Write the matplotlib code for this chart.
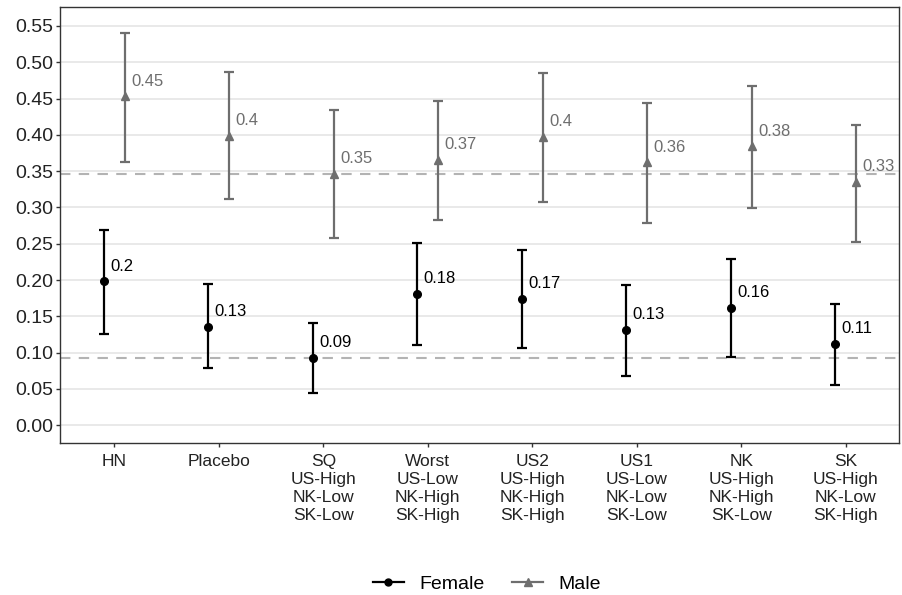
import matplotlib
matplotlib.use("Agg")
from matplotlib import pyplot as plt
from matplotlib.lines import Line2D
import numpy as np

plt.rcParams['font.family'] = ['Liberation Sans', 'DejaVu Sans']

categories = ["HN", "Placebo", "SQ\nUS-High\nNK-Low\nSK-Low", "Worst\nUS-Low\nNK-High\nSK-High",
              "US2\nUS-High\nNK-High\nSK-High", "US1\nUS-Low\nNK-Low\nSK-Low",
              "NK\nUS-High\nNK-High\nSK-Low", "SK\nUS-High\nNK-Low\nSK-High"]

female_mean = [0.198, 0.136, 0.093, 0.181, 0.174, 0.131, 0.162, 0.112]
female_lo = [0.126, 0.079, 0.044, 0.111, 0.106, 0.068, 0.094, 0.056]
female_hi = [0.269, 0.194, 0.141, 0.251, 0.242, 0.193, 0.229, 0.167]
female_labels = ["0.2", "0.13", "0.09", "0.18", "0.17", "0.13", "0.16", "0.11"]

male_mean = [0.453, 0.398, 0.346, 0.366, 0.397, 0.362, 0.384, 0.335]
male_lo = [0.363, 0.311, 0.258, 0.283, 0.308, 0.278, 0.299, 0.253]
male_hi = [0.540, 0.486, 0.434, 0.447, 0.485, 0.444, 0.467, 0.413]
male_labels = ["0.45", "0.4", "0.35", "0.37", "0.4", "0.36", "0.38", "0.33"]

FEMALE_COL = "black"
MALE_COL = "#6e6e6e"

fig = plt.figure(figsize=(9.02, 5.95), dpi=100)
ax = fig.add_axes([0.0665, 0.2555, 0.9302, 0.7327])

x = np.arange(1, len(categories) + 1)
xf = x - 0.1
xm = x + 0.1

ax.axhline(female_mean[2], color="#b3b3b3", lw=1.5, ls=(0, (5, 4)), zorder=1)
ax.axhline(male_mean[2], color="#b3b3b3", lw=1.5, ls=(0, (5, 4)), zorder=1)

fm = np.array(female_mean)
ax.errorbar(xf, fm, yerr=[fm - np.array(female_lo), np.array(female_hi) - fm],
            fmt="o", color=FEMALE_COL, ms=5.5, elinewidth=1.6, capsize=3.8,
            capthick=1.6, zorder=3)
mm = np.array(male_mean)
ax.errorbar(xm, mm, yerr=[mm - np.array(male_lo), np.array(male_hi) - mm],
            fmt="^", color=MALE_COL, ms=6, elinewidth=1.6, capsize=3.8,
            capthick=1.6, zorder=3)

for xi, yi, lab in zip(xf, female_mean, female_labels):
    ax.annotate(lab, (xi, yi), xytext=(4.5, 11), textcoords="offset points",
                ha="left", va="center", fontsize=12, color=FEMALE_COL)
for xi, yi, lab in zip(xm, male_mean, male_labels):
    ax.annotate(lab, (xi, yi), xytext=(4.5, 11), textcoords="offset points",
                ha="left", va="center", fontsize=12, color=MALE_COL)

ax.set_xlim(0.48, 8.51)
ax.set_ylim(-0.0244, 0.576)
ax.set_xticks(x)
ax.set_xticklabels(categories, fontsize=12.5, linespacing=1.25, color="#222222")
ax.set_yticks(np.arange(0, 0.551, 0.05))
ax.set_yticklabels([f"{v:.2f}" for v in np.arange(0, 0.551, 0.05)], fontsize=14, color="#222222")
ax.tick_params(length=3, width=1, color="#333333")
ax.tick_params(axis="x", pad=5)
ax.tick_params(axis="y", pad=2)
ax.yaxis.grid(True, color="#e5e5e5", lw=1.2)
ax.set_axisbelow(True)
for s in ax.spines.values():
    s.set_color("#333333")
    s.set_linewidth(1.0)

handles = [Line2D([], [], color=FEMALE_COL, marker="o", ms=5, lw=1.6),
           Line2D([], [], color=MALE_COL, marker="^", ms=6, lw=1.6)]
fig.legend(handles, ["Female", "Male"], loc="center", bbox_to_anchor=(0.54, 0.0185),
           ncol=2, frameon=False, fontsize=14, handlelength=1.6,
           handletextpad=0.8, columnspacing=1.4)

plt.savefig("out.png", dpi=100)
plt.close()
